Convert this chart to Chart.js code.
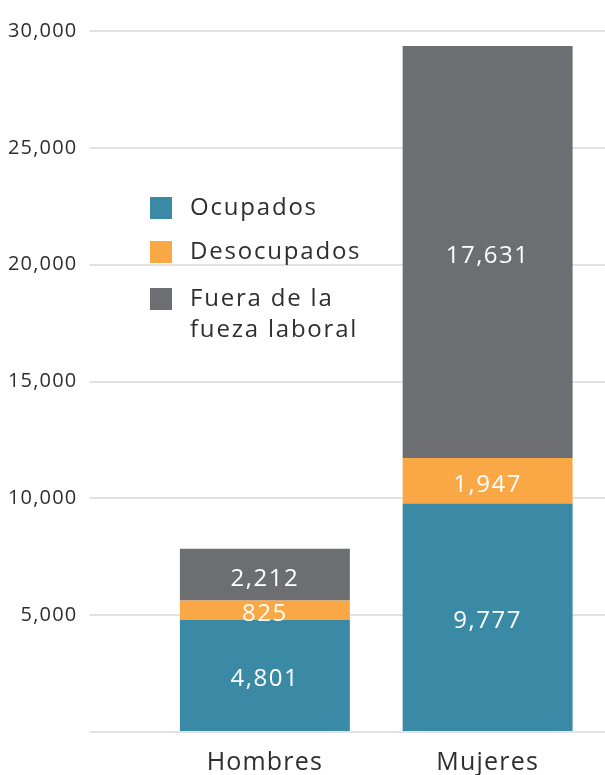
<!DOCTYPE html>
<html>
<head>
<meta charset="utf-8">
<script src="https://cdn.jsdelivr.net/npm/chart.js@4"></script>
<style>
  html, body { margin: 0; padding: 0; background: #ffffff; }
  #wrap { width: 605px; height: 775px; position: relative; }
</style>
</head>
<body>
<div id="wrap"><canvas id="chart-poblacion"></canvas></div>
<script>
// Población por condición de actividad, por sexo
const categories = ['Hombres', 'Mujeres'];
const seriesNames = ['Ocupados', 'Desocupados', 'Fuera de la\nfueza laboral'];
const ocupados = [4801, 9777];
const desocupados = [825, 1947];
const fueraFuerza = [2212, 17631];
const yTicks = [0, 5000, 10000, 15000, 20000, 25000, 30000];

const FONT = "'Open Sans', 'Noto Sans', sans-serif";
const TEXT_COLOR = '#2e2e2e';
const GRID_COLOR = '#e2e2e2';
const colors = ['#3a8aa6', '#f9a845', '#6d6e72'];

const fmt = v => v.toLocaleString('en-US');

// the original font is wider than Open Sans, a bit of tracking compensates
const tracking = {
    id: 'tracking',
    beforeUpdate(chart) { chart.ctx.letterSpacing = '1.2px'; },
    beforeDraw(chart) { chart.ctx.letterSpacing = '1.2px'; },
};

// white value labels centred in each stacked segment
const segmentLabels = {
    id: 'segmentLabels',
    afterDatasetsDraw(chart) {
        const ctx = chart.ctx;
        ctx.save();
        ctx.letterSpacing = '1.5px';
        ctx.fillStyle = '#ffffff';
        ctx.font = `24px ${FONT}`;
        ctx.textAlign = 'center';
        ctx.textBaseline = 'middle';
        chart.data.datasets.forEach((ds, i) => {
            const meta = chart.getDatasetMeta(i);
            meta.data.forEach((bar, j) => {
                const mid = (bar.y + bar.base) / 2;
                ctx.fillText(fmt(ds.data[j]), bar.x, mid + 4);
            });
        });
        ctx.restore();
    },
};

// legend drawn inside the plot, upper left
const insideLegend = {
    id: 'insideLegend',
    afterDraw(chart) {
        const ctx = chart.ctx;
        const boxX = 150, box = 22, textX = 190;
        const rowY = [208, 252, 299];
        const lineH = 31;
        ctx.save();
        ctx.letterSpacing = '1.8px';
        ctx.font = `24px ${FONT}`;
        ctx.textAlign = 'left';
        ctx.textBaseline = 'middle';
        chart.data.datasets.forEach((ds, i) => {
            ctx.fillStyle = ds.backgroundColor;
            ctx.fillRect(boxX, rowY[i] - box / 2, box, box);
            ctx.fillStyle = TEXT_COLOR;
            ds.label.split('\n').forEach((line, k) => {
                ctx.fillText(line, textX, rowY[i] + k * lineH);
            });
        });
        ctx.restore();
    },
};

const datasets = [ocupados, desocupados, fueraFuerza].map((values, i) => ({
    label: seriesNames[i],
    data: values,
    backgroundColor: colors[i],
    borderWidth: 0,
    categoryPercentage: 1.0,
    barPercentage: 0.763,
}));

new Chart(document.getElementById('chart-poblacion'), {
    type: 'bar',
    data: { labels: categories, datasets: datasets },
    options: {
        responsive: true,
        maintainAspectRatio: false,
        animation: false,
        layout: { padding: { top: 31, left: 0, right: 0, bottom: 0 } },
        plugins: {
            legend: { display: false },
            tooltip: { enabled: false },
        },
        scales: {
            x: {
                stacked: true,
                grid: { display: false, drawTicks: false },
                border: { display: false },
                ticks: {
                    color: TEXT_COLOR,
                    font: { family: FONT, size: 25 },
                    padding: 16,
                },
                afterFit: scale => { scale.height = 43; },
            },
            y: {
                stacked: true,
                min: 0,
                max: 30000,
                afterBuildTicks: scale => { scale.ticks = yTicks.map(v => ({ value: v })); },
                grid: {
                    color: GRID_COLOR,
                    lineWidth: 2,
                    drawTicks: true,
                    tickLength: 64,
                },
                border: { display: false },
                ticks: {
                    color: TEXT_COLOR,
                    font: { family: FONT, size: 20 },
                    padding: 12,
                    callback: v => (v === 0 ? '' : fmt(v)),
                },
                afterFit: scale => { scale.width = 153.5; },
            },
            y2: {
                position: 'right',
                min: 0,
                max: 30000,
                afterBuildTicks: scale => { scale.ticks = yTicks.map(v => ({ value: v })); },
                grid: {
                    color: GRID_COLOR,
                    lineWidth: 2,
                    drawOnChartArea: false,
                    drawTicks: true,
                    tickLength: 6,
                },
                border: { display: false },
                ticks: { display: false },
                afterFit: scale => { scale.width = 6; },
            },
        },
    },
    plugins: [tracking, segmentLabels, insideLegend],
});
</script>
</body>
</html>
